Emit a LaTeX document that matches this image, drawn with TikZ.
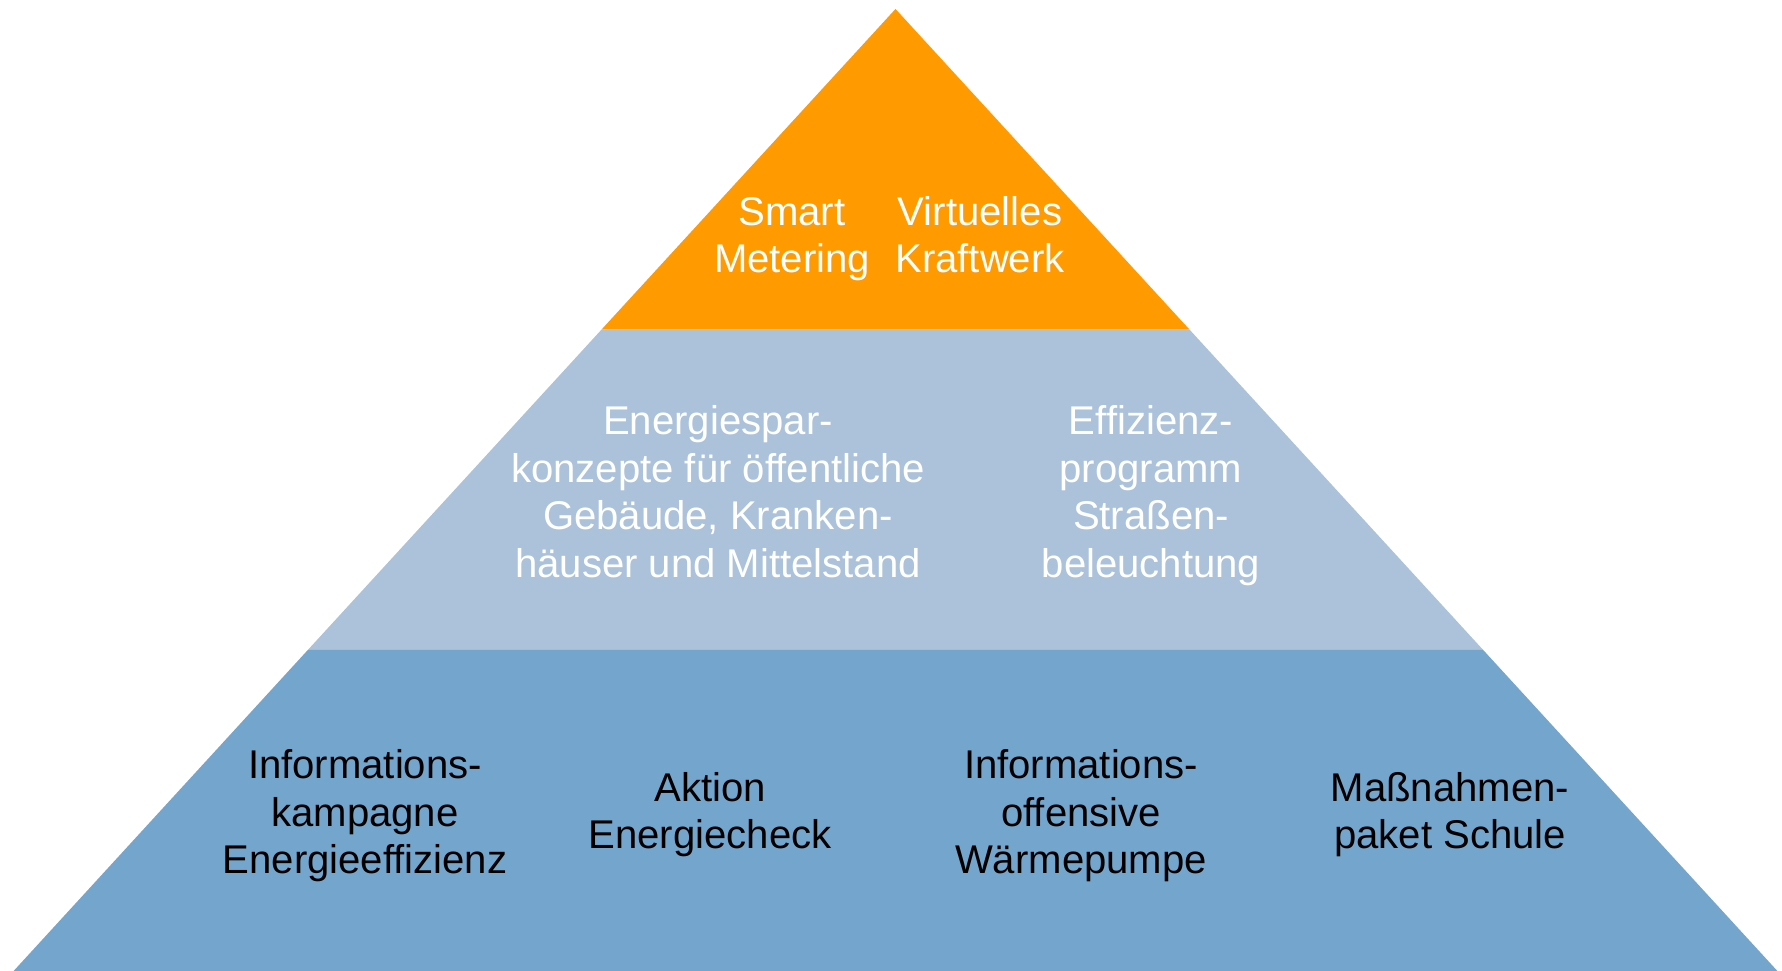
\documentclass[tikz,border=0pt]{standalone}
\usepackage{fontspec}
\setmainfont{Liberation Sans}
\definecolor{topcol}{HTML}{FF9A00}
\definecolor{midcol}{HTML}{ABC2DA}
\definecolor{lowcol}{HTML}{74A5CD}
\begin{document}
\begin{tikzpicture}[x=0.01cm,y=-0.01cm,
  lbl/.style={align=center, inner sep=0pt, font=\fontsize{11.4}{13.6}\selectfont}]
  \useasboundingbox (0,0) rectangle (1782,971);
  % pyramid layers
  \coordinate (apex) at (895.5,9);
  \coordinate (tl) at (601.5,329.6); \coordinate (tr) at (1189.5,329.6);
  \coordinate (ml) at (307.8,650);   \coordinate (mr) at (1483.2,650);
  \coordinate (bl) at (13.6,971);    \coordinate (br) at (1777.4,971);
  \fill[topcol] (apex) -- (tr) -- (tl) -- cycle;
  \fill[midcol] (tl) -- (tr) -- (mr) -- (ml) -- cycle;
  \fill[lowcol] (ml) -- (mr) -- (br) -- (bl) -- cycle;
  % top
  \node[lbl, text=white] (smart) at (792,239.5) {\strut Smart\\Metering\strut};
  \node[lbl, text=white] (vkw) at (980,239.5) {\strut Virtuelles\\Kraftwerk\strut};
  % middle
  \node[lbl, text=white] (konz) at (718,496.5) {\strut Energiespar-\\konzepte für öffentliche\\Gebäude, Kranken-\\häuser und Mittelstand\strut};
  \node[lbl, text=white] (eff) at (1151,496.5) {\strut Effizienz-\\programm\\Straßen-\\beleuchtung\strut};
  % bottom
  \node[lbl] (kamp) at (365,816.5) {\strut Informations-\\kampagne\\Energieeffizienz\strut};
  \node[lbl] (check) at (710,815.5) {\strut Aktion\\Energiecheck\strut};
  \node[lbl] (waerme) at (1081,816.5) {\strut Informations-\\offensive\\Wärmepumpe\strut};
  \node[lbl] (schule) at (1450,815.5) {\strut Maßnahmen-\\paket Schule\strut};
\end{tikzpicture}
\end{document}
